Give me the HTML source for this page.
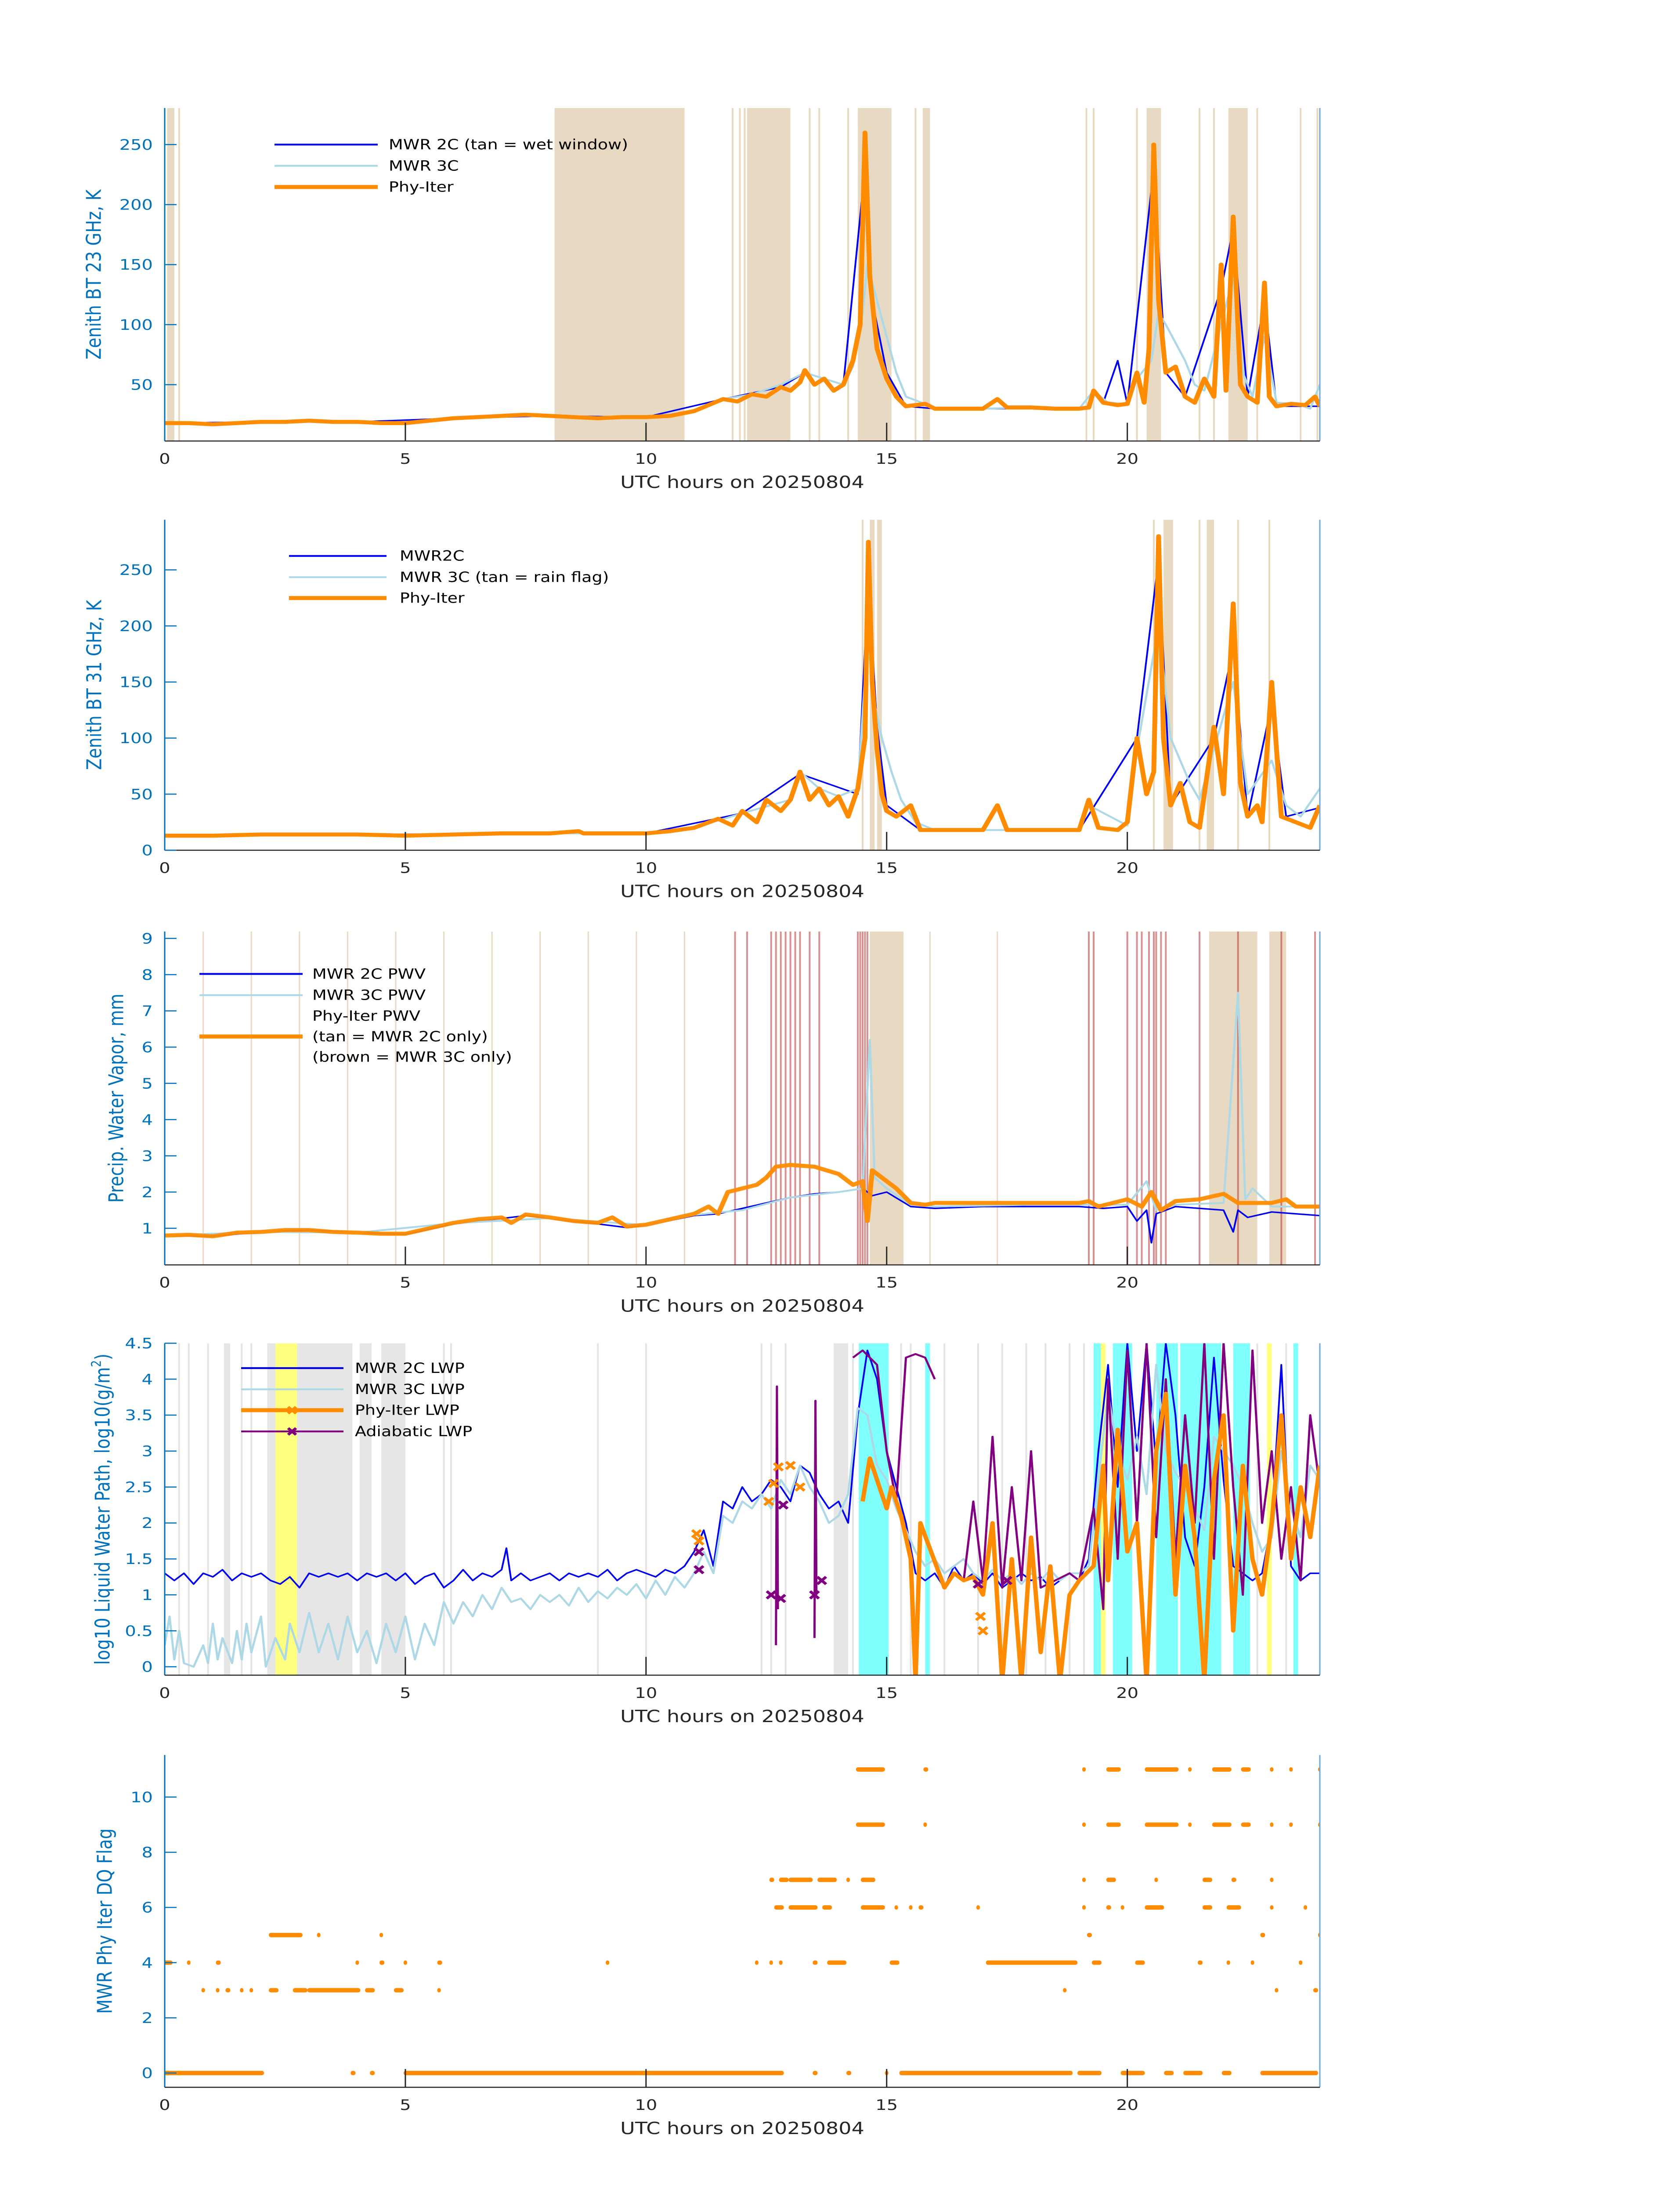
<!DOCTYPE html>
<html><head><meta charset="utf-8"><title>MWR Phy-Iter daily plots 20250804</title>
<style>
html,body{margin:0;padding:0;background:#fff;overflow:hidden;width:100%;height:100%;}
svg{display:block;width:100vw;height:100vh;font-family:"DejaVu Sans","Liberation Sans",sans-serif;}
.tk{font-size:40px;fill:#0072bd;}
.xt{font-size:40px;fill:#262626;}
.yl{font-size:46px;fill:#0072bd;}
.xl{font-size:46px;fill:#262626;}
.lg{font-size:38px;fill:#000;}
</style></head>
<body>
<svg id="fig" viewBox="0 0 3825 6000" preserveAspectRatio="none" xmlns="http://www.w3.org/2000/svg"></svg>
<script>
// ---------- DATA ----------
const phy23=[[0,18],[0.5,18],[1,17],[1.5,18],[2,19],[2.5,19],[3,20],[3.5,19],[4,19],[4.5,18],[5,18],[5.5,20],[6,22],[6.5,23],[7,24],[7.5,25],[8,24],[8.5,23],[9,22],[9.5,23],[10,23],[10.5,24],[11,28],[11.3,33],[11.6,38],[11.9,36],[12.2,42],[12.5,40],[12.8,48],[13.0,45],[13.2,52],[13.3,62],[13.5,50],[13.7,55],[13.9,45],[14.1,50],[14.3,70],[14.45,100],[14.55,260],[14.65,140],[14.8,80],[15.0,55],[15.2,40],[15.4,32],[15.6,33],[15.8,34],[16,30],[16.5,30],[17,30],[17.3,38],[17.5,31],[18,31],[18.5,30],[19,30],[19.2,31],[19.3,45],[19.5,35],[19.8,33],[20.0,34],[20.2,60],[20.35,35],[20.45,80],[20.55,250],[20.65,120],[20.8,60],[21.0,65],[21.2,40],[21.4,35],[21.6,55],[21.8,40],[21.95,150],[22.05,45],[22.2,190],[22.35,50],[22.5,40],[22.7,35],[22.85,135],[22.95,40],[23.1,32],[23.4,34],[23.7,33],[23.9,40],[24,32]];
const lb23=[[0,18],[1,17],[2,19],[3,20],[4,19],[5,18],[6,22],[7,24],[8,24],[9,22],[10,23],[11,28],[11.6,38],[12.2,42],[12.8,50],[13.3,60],[13.7,55],[14.1,50],[14.3,65],[14.5,110],[14.6,150],[14.8,120],[15.0,90],[15.2,60],[15.4,40],[15.8,34],[16,30],[17,30],[18,31],[19,30],[19.3,45],[19.6,35],[20.0,34],[20.2,55],[20.5,70],[20.65,110],[20.8,100],[21.0,85],[21.2,70],[21.4,50],[21.6,45],[21.95,100],[22.2,140],[22.4,60],[22.6,40],[22.85,90],[23.1,35],[23.5,34],[23.8,30],[24,50]];
const b23=[[0,18],[2,19],[4,19],[6,22],[8,24],[10,23],[11.6,38],[12.8,48],[13.3,60],[14.1,50],[14.55,230],[14.65,130],[14.8,100],[15.0,60],[15.4,32],[16,30],[19,30],[19.3,45],[19.5,35],[19.8,70],[20.0,34],[20.55,230],[20.8,60],[21.2,40],[21.95,130],[22.2,180],[22.5,40],[22.85,120],[23.1,32],[24,32]];
const tanBands23=[[0.05,0.2],[8.1,10.8],[12.1,13.0],[14.4,15.1],[15.75,15.9],[20.4,20.7],[22.1,22.5]];
const tanLines23=[0.3,11.8,11.95,12.05,13.4,13.6,14.2,15.6,19.15,19.3,20.2,21.5,21.8,22.7,23.6,23.95];

const phy31=[[0,13],[1,13],[2,14],[3,14],[4,14],[5,13],[6,14],[7,15],[8,15],[8.6,17],[8.7,15],[9,15],[10,15],[10.5,17],[11,20],[11.5,28],[11.8,22],[12,35],[12.3,25],[12.5,45],[12.8,35],[13,45],[13.2,70],[13.4,45],[13.6,55],[13.8,40],[14,48],[14.2,30],[14.4,55],[14.55,100],[14.62,275],[14.7,150],[14.8,90],[14.9,50],[15.0,35],[15.2,30],[15.5,40],[15.7,18],[16,18],[17,18],[17.3,40],[17.5,18],[18,18],[19,18],[19.2,45],[19.4,20],[19.8,18],[20.0,25],[20.2,100],[20.4,50],[20.55,70],[20.65,280],[20.75,100],[20.9,40],[21.1,60],[21.3,25],[21.5,20],[21.8,110],[22.0,50],[22.2,220],[22.35,60],[22.5,30],[22.7,40],[22.8,25],[23.0,150],[23.2,30],[23.5,25],[23.8,20],[24,40]];
const lb31=[[0,13],[2,14],[4,14],[6,14],[8,15],[10,15],[11,20],[12,33],[13,45],[13.2,70],[13.6,55],[14,48],[14.4,55],[14.62,200],[14.75,130],[14.9,100],[15.1,70],[15.3,45],[15.6,25],[16,18],[19,18],[19.2,40],[20,22],[20.2,90],[20.65,200],[20.9,100],[21.1,80],[21.3,60],[21.5,45],[21.8,90],[22.2,150],[22.5,50],[23.0,80],[23.3,40],[23.6,30],[24,55]];
const b31=[[0,13],[4,14],[8,15],[10,15],[12,33],[13.2,68],[14.4,50],[14.62,240],[14.8,110],[15.0,40],[15.7,18],[19,18],[20.2,100],[20.65,260],[20.9,40],[21.8,100],[22.2,180],[22.5,30],[23.0,130],[23.3,30],[24,38]];
const tanBands31=[[14.65,14.75],[14.8,14.9],[20.75,20.95],[21.65,21.8]];
const tanLines31=[14.5,20.55,21.5,22.3,22.95];

const phyPwv=[[0,0.8],[0.5,0.82],[1,0.78],[1.5,0.88],[2,0.9],[2.5,0.95],[3,0.95],[3.5,0.9],[4,0.88],[4.5,0.85],[5,0.85],[5.5,1.0],[6,1.15],[6.5,1.25],[7,1.3],[7.2,1.15],[7.5,1.38],[8,1.3],[8.5,1.2],[9,1.15],[9.3,1.3],[9.6,1.05],[10,1.1],[10.5,1.25],[11,1.4],[11.3,1.6],[11.5,1.4],[11.7,2.0],[12,2.1],[12.3,2.2],[12.5,2.4],[12.7,2.7],[13.0,2.75],[13.5,2.7],[14,2.5],[14.3,2.2],[14.5,2.3],[14.6,1.2],[14.7,2.6],[14.9,2.4],[15.2,2.1],[15.5,1.7],[15.8,1.65],[16,1.7],[17,1.7],[18,1.7],[19,1.7],[19.2,1.75],[19.4,1.6],[20,1.8],[20.3,1.6],[20.5,2.0],[20.7,1.5],[21,1.75],[21.5,1.8],[22,1.95],[22.3,1.7],[22.6,1.7],[23,1.7],[23.3,1.8],[23.5,1.6],[24,1.6]];
const bPwv=[[0,0.8],[1,0.78],[2,0.9],[3,0.95],[4,0.88],[5,0.83],[6,1.12],[7,1.27],[7.5,1.35],[8,1.27],[9,1.12],[9.6,1.02],[10,1.08],[11,1.35],[11.5,1.4],[12,1.55],[12.5,1.7],[13,1.85],[13.5,1.95],[14,2.0],[14.5,2.1],[14.7,1.9],[15,2.0],[15.5,1.6],[16,1.55],[17,1.6],[18,1.6],[19,1.6],[19.5,1.55],[20,1.6],[20.2,1.2],[20.4,1.5],[20.5,0.6],[20.6,1.4],[21,1.6],[21.5,1.55],[22,1.5],[22.2,0.9],[22.3,1.5],[22.5,1.3],[23,1.45],[23.5,1.4],[24,1.35]];
const lbPwv=[[0,0.8],[2,0.9],[4,0.88],[6,1.14],[8,1.28],[10,1.09],[11,1.37],[12,1.5],[13,1.85],[14,2.0],[14.5,2.1],[14.65,6.2],[14.75,2.4],[15,2.1],[15.5,1.65],[16,1.6],[18,1.65],[20,1.65],[20.4,2.3],[20.6,1.5],[21,1.65],[22,1.7],[22.3,7.5],[22.45,1.8],[22.6,2.1],[23,1.6],[24,1.6]];
const tanBandsPwv=[[14.65,15.35],[21.7,22.7],[22.95,23.3]];
const redLinesPwv=[11.85,12.1,12.6,12.7,12.8,12.9,13.0,13.1,13.2,13.4,13.6,14.4,14.45,14.5,14.55,14.6,19.2,19.3,20.0,20.2,20.3,20.45,20.55,20.6,20.7,20.8,21.5,22.3,23.2,23.9];
const tanLinesPwv=[0.8,1.8,2.8,3.8,4.8,5.8,6.8,7.8,8.8,9.8,10.8,15.9,17.3];

const b2Lwp=[[0,1.3],[0.2,1.2],[0.4,1.3],[0.6,1.15],[0.8,1.3],[1.0,1.25],[1.2,1.35],[1.4,1.2],[1.6,1.3],[1.8,1.25],[2.0,1.3],[2.2,1.2],[2.4,1.15],[2.6,1.25],[2.8,1.1],[3.0,1.3],[3.2,1.25],[3.4,1.3],[3.6,1.25],[3.8,1.3],[4.0,1.2],[4.2,1.3],[4.4,1.25],[4.6,1.3],[4.8,1.2],[5.0,1.3],[5.2,1.15],[5.4,1.25],[5.6,1.3],[5.8,1.1],[6.0,1.2],[6.2,1.35],[6.4,1.2],[6.6,1.3],[6.8,1.25],[7.0,1.35],[7.1,1.65],[7.2,1.2],[7.4,1.3],[7.6,1.2],[7.8,1.25],[8.0,1.3],[8.2,1.2],[8.4,1.3],[8.6,1.25],[8.8,1.3],[9.0,1.25],[9.2,1.35],[9.4,1.2],[9.6,1.3],[9.8,1.35],[10.0,1.3],[10.2,1.25],[10.4,1.35],[10.6,1.3],[10.8,1.4],[11.0,1.6],[11.2,1.9],[11.4,1.4],[11.6,2.3],[11.8,2.2],[12.0,2.5],[12.2,2.3],[12.4,2.4],[12.6,2.6],[12.8,2.5],[13.0,2.3],[13.2,2.8],[13.4,2.7],[13.6,2.4],[13.8,2.2],[14.0,2.3],[14.2,2.0],[14.4,3.5],[14.6,4.4],[14.8,4.0],[15.0,3.0],[15.2,2.5],[15.4,2.0],[15.6,1.3],[15.8,1.2],[16.0,1.3],[16.2,1.1],[16.4,1.4],[16.6,1.2],[16.8,1.3],[17.0,1.15],[17.2,1.3],[17.4,1.1],[17.6,1.2],[17.8,1.3],[18.0,1.2],[18.2,1.25],[18.4,1.1],[18.6,1.2],[18.8,1.3],[19.0,1.2],[19.2,1.5],[19.4,3.0],[19.6,4.2],[19.8,2.5],[20.0,4.5],[20.2,3.0],[20.4,4.5],[20.6,2.8],[20.8,4.5],[21.0,3.5],[21.2,1.8],[21.4,1.4],[21.6,2.5],[21.8,4.3],[22.0,2.6],[22.2,1.4],[22.4,1.3],[22.6,1.2],[22.8,1.3],[23.0,2.0],[23.2,4.2],[23.4,1.4],[23.6,1.2],[23.8,1.3],[24,1.3]];
const b3Lwp=[[0,0.3],[0.1,0.7],[0.2,0.1],[0.3,0.5],[0.4,0.05],[0.6,0],[0.8,0.3],[0.9,0.05],[1.0,0.6],[1.1,0.1],[1.2,0.4],[1.4,0.05],[1.5,0.5],[1.6,0.1],[1.7,0.6],[1.8,0.2],[2.0,0.7],[2.1,0.0],[2.3,0.4],[2.5,0.1],[2.6,0.6],[2.8,0.2],[3.0,0.75],[3.2,0.2],[3.4,0.6],[3.6,0.1],[3.8,0.7],[4.0,0.2],[4.2,0.5],[4.4,0.05],[4.6,0.6],[4.8,0.2],[5.0,0.7],[5.2,0.1],[5.4,0.6],[5.6,0.3],[5.8,0.9],[6.0,0.6],[6.2,0.9],[6.4,0.7],[6.6,1.0],[6.8,0.8],[7.0,1.1],[7.2,0.9],[7.4,0.95],[7.6,0.8],[7.8,1.0],[8.0,0.9],[8.2,1.0],[8.4,0.85],[8.6,1.1],[8.8,0.9],[9.0,1.05],[9.2,0.95],[9.4,1.1],[9.6,1.0],[9.8,1.15],[10.0,0.95],[10.2,1.2],[10.4,1.0],[10.6,1.25],[10.8,1.1],[11.0,1.3],[11.2,1.6],[11.4,1.3],[11.6,2.1],[11.8,2.0],[12.0,2.3],[12.2,2.2],[12.4,2.4],[12.6,2.2],[12.8,2.6],[13.0,2.4],[13.2,2.8],[13.4,2.5],[13.6,2.3],[13.8,2.0],[14.0,2.1],[14.2,2.4],[14.4,3.6],[14.6,3.5],[14.8,2.8],[15.0,2.6],[15.2,2.2],[15.4,1.9],[15.6,1.6],[15.8,1.4],[16.0,1.5],[16.2,1.3],[16.4,1.4],[16.6,1.5],[16.8,1.3],[17.0,1.2],[17.2,1.35],[17.4,1.2],[17.6,1.3],[17.8,1.15],[18.0,1.3],[18.2,1.2],[18.4,1.35],[18.6,1.2],[18.8,1.3],[19.0,1.3],[19.2,1.4],[19.4,2.6],[19.6,3.8],[19.8,3.0],[20.0,2.6],[20.2,3.2],[20.4,2.4],[20.6,4.2],[20.8,3.0],[21.0,2.7],[21.2,2.5],[21.4,2.2],[21.6,1.9],[21.8,3.2],[22.0,3.0],[22.2,2.8],[22.4,2.5],[22.6,2.0],[22.8,1.6],[23.0,1.8],[23.2,3.0],[23.4,2.2],[23.6,1.8],[23.8,2.8],[24,2.6]];
const phyLwp=[[14.5,2.3],[14.65,2.9],[14.8,2.6],[15.0,2.2],[15.1,2.5],[15.3,2.1],[15.5,1.5],[15.6,-0.2],[15.7,2.0],[16.2,1.1],[16.4,1.3],[16.6,1.2],[16.8,1.25],[17.0,1.0],[17.2,2.0],[17.4,-0.2],[17.6,1.5],[17.8,-0.2],[18.0,1.8],[18.2,0.2],[18.4,1.4],[18.6,-0.2],[18.8,1.0],[19.0,1.2],[19.3,1.4],[19.5,2.8],[19.6,1.2],[19.8,3.3],[20.0,1.6],[20.2,2.0],[20.4,-0.2],[20.6,3.0],[20.8,3.8],[21.0,1.0],[21.2,2.8],[21.4,1.8],[21.6,-0.2],[21.8,2.6],[22.0,3.5],[22.2,0.5],[22.4,2.8],[22.6,1.5],[22.8,1.0],[23.0,2.0],[23.2,3.5],[23.4,1.5],[23.6,2.5],[23.8,1.8],[24,2.8]];
const phyLwpMarks=[[11.05,1.85],[11.1,1.75],[12.55,2.3],[12.65,2.55],[12.75,2.78],[13.0,2.8],[13.2,2.5],[16.95,0.7],[17.0,0.5]];
const adiaLwp=[[12.7,0.3],[12.72,3.9],[12.74,0.8],null,[13.5,0.4],[13.52,3.7],[13.54,1.0],null,[14.3,4.3],[14.5,4.4],[14.8,4.2],[15.0,3.0],[15.2,2.3],[15.4,4.3],[15.6,4.35],[15.8,4.3],[16.0,4.0],null,[16.6,1.2],[16.8,2.3],[17.0,1.2],[17.2,3.2],[17.4,1.1],[17.6,2.5],[17.8,1.2],[18.0,3.0],[18.2,1.1],[18.5,1.2],[18.8,1.3],[19.0,1.2],[19.3,2.2],[19.5,0.8],[19.6,4.0],[19.8,1.5],[20.0,4.4],[20.2,2.0],[20.4,4.5],[20.6,1.8],[20.8,4.0],[21.0,1.5],[21.2,3.5],[21.4,2.0],[21.6,4.5],[21.8,1.5],[22.0,4.5],[22.2,2.5],[22.4,1.0],[22.6,4.4],[22.8,2.0],[23.0,3.0],[23.2,1.5],[23.4,2.5],[23.6,1.2],[23.8,3.5],[24,2.5]];
const adiaMarks=[[11.1,1.6],[11.1,1.35],[12.6,1.0],[12.8,0.95],[12.85,2.25],[13.5,1.0],[13.65,1.2],[16.9,1.15],[17.5,1.2]];
const grayBands=[[1.23,1.36],[2.13,3.9],[4.05,4.3],[4.5,5.0],[13.9,14.2]];
const yellowBands=[[2.3,2.75],[19.45,19.55],[22.9,23.0]];
const cyanBands=[[14.42,15.04],[15.8,15.9],[19.3,19.45],[19.7,20.1],[20.6,21.05],[21.1,21.95],[22.2,22.55],[23.45,23.55]];
const grayLines=[0.3,0.5,0.9,1.6,1.8,5.8,5.95,9.0,10.0,12.4,12.6,12.9,14.3,15.3,15.5,16.2,16.9,17.4,17.9,18.3,18.8,19.1,22.7,23.3];

const flagLevels=[0,3,4,5,6,7,9,11];
const flagSegs=[
 [[0,2.1],[3.9,4.0],[4.3,4.4],[5.0,12.9],[13.5,13.6],[14.2,14.3],[15.0,15.05],[15.3,18.9],[19.0,19.5],[19.9,20.4],[20.8,21.0],[21.2,21.6],[22.0,22.2],[22.8,24]],
 [[0.8,0.8],[1.1,1.1],[1.3,1.4],[1.6,1.6],[1.8,1.8],[2.2,2.4],[2.7,3.0],[3.0,4.1],[4.2,4.4],[4.8,5.0],[5.7,5.7],[18.7,18.7],[23.1,23.1],[23.9,24]],
 [[0,0.2],[0.5,0.5],[1.1,1.2],[4.0,4.0],[4.5,4.6],[5.0,5.0],[5.7,5.8],[9.2,9.2],[12.3,12.3],[12.6,12.6],[12.8,12.8],[13.5,13.6],[13.8,14.2],[15.1,15.3],[17.1,19.0],[19.3,19.5],[20.2,20.4],[21.5,21.6],[22.1,22.1],[22.6,22.6],[23.6,23.6]],
 [[2.2,2.9],[3.2,3.2],[4.5,4.5],[19.2,19.3],[22.8,22.9],[24,24]],
 [[12.7,12.9],[13.0,13.6],[13.7,13.9],[14.5,15.0],[15.2,15.2],[15.5,15.5],[15.7,15.8],[16.9,16.9],[19.1,19.1],[19.6,19.7],[19.9,19.9],[20.4,20.8],[21.6,21.8],[22.1,22.4],[23.0,23.0],[23.7,23.7]],
 [[12.6,12.7],[12.8,13.0],[13.0,13.5],[13.6,14.0],[14.2,14.2],[14.5,14.8],[19.1,19.1],[19.6,19.8],[20.6,20.6],[21.6,21.8],[22.2,22.3],[23.0,23.0]],
 [[14.4,15.0],[15.8,15.8],[19.1,19.1],[19.6,19.9],[20.4,21.1],[21.3,21.3],[21.8,22.2],[22.4,22.6],[23.0,23.0],[23.4,23.4],[24,24]],
 [[14.4,15.0],[15.8,15.9],[19.1,19.1],[19.6,19.9],[20.4,21.1],[21.3,21.3],[21.8,22.2],[22.4,22.6],[23.0,23.0],[23.4,23.4],[24,24]]
];

// ---------- DRAWING ----------
const NS='http://www.w3.org/2000/svg';
const svg=document.getElementById('fig');
const X0=375,X1=3005;
function sx(h){return X0+(h/24)*(X1-X0);}
function mk(tag,attrs,parent){const e=document.createElementNS(NS,tag);for(const k in attrs)e.setAttribute(k,attrs[k]);(parent||svg).appendChild(e);return e;}
function makeY(p){return v=>p.y0px+(v-p.y0)*(p.y1px-p.y0px)/(p.y1-p.y0);}
function pathD(pts,ys){let d='',pen=false;for(const p of pts){if(!p){pen=false;continue;}d+=(pen?'L':'M')+sx(p[0]).toFixed(1)+' '+ys(p[1]).toFixed(1);pen=true;}return d;}

const panels=[
 {id:'bt23',top:295,bot:1205,y0:50,y0px:1051,y1:250,y1px:395,ticks:[50,100,150,200,250],label:'Zenith BT 23 GHz, K',labX:217},
 {id:'bt31',top:1420,bot:2323,y0:0,y0px:2323,y1:250,y1px:1557,ticks:[0,50,100,150,200,250],label:'Zenith BT 31 GHz, K',labX:218},
 {id:'pwv',top:2545,bot:3456,y0:1,y0px:3356,y1:9,y1px:2564,ticks:[1,2,3,4,5,6,7,8,9],label:'Precip. Water Vapor, mm',labX:268},
 {id:'lwp',top:3670,bot:4577,y0:0,y0px:4554,y1:4.5,y1px:3670,ticks:[0,0.5,1,1.5,2,2.5,3,3.5,4,4.5],label:'LWP',labX:237},
 {id:'dq',top:4795,bot:5703,y0:0,y0px:5664,y1:10,y1px:4910,ticks:[0,2,4,6,8,10],label:'MWR Phy Iter DQ Flag',labX:242}
];
const defs=mk('defs',{});

panels.forEach((p,i)=>{
 const g=mk('g',{});
 
 
 const cp=mk('clipPath',{id:'cp'+i},defs);
 mk('rect',{x:X0,y:p.top,width:X1-X0,height:p.bot-p.top},cp);
 p.g=g; p.ys=makeY(p);
 p.plot=mk('g',{'clip-path':'url(#cp'+i+')'},g);
 
 
});

function bands(p,list,color,op,name){for(const b of list){const r=mk('rect',{x:sx(b[0]),y:p.top,width:Math.max(3,sx(b[1])-sx(b[0])),height:p.bot-p.top,fill:color,'fill-opacity':op},p.plot);
 
 }}
function vlines(p,list,color,op,w,name){for(const h of list){const l=mk('line',{x1:sx(h),x2:sx(h),y1:p.top,y2:p.bot,stroke:color,'stroke-opacity':op,'stroke-width':w},p.plot);
 
 }}
function series(p,pts,color,w,name,op){const e=mk('path',{d:pathD(pts,p.ys),fill:'none',stroke:color,'stroke-width':w,'stroke-linejoin':'round','stroke-opacity':op||1},p.plot);
 
 }
function xmarks(p,pts,color,name){for(const q of pts){const cx=sx(q[0]),cy=p.ys(q[1]),s=10;
 const e=mk('path',{d:`M${cx-s} ${cy-s}L${cx+s} ${cy+s}M${cx-s} ${cy+s}L${cx+s} ${cy-s}`,stroke:color,'stroke-width':7},p.plot);
 
 }}

const TAN='#e8d9c2',ORANGE='#ff8c00',BLUE='#0000ee',LB='#add8e6',PURPLE='#800080';
let P=panels[0];
bands(P,tanBands23,TAN,1,'wet-window-band');
vlines(P,tanLines23,TAN,1,4,'wet-window-line');
series(P,b23,BLUE,4,'mwr2c-bt23');
series(P,lb23,LB,5,'mwr3c-bt23');
series(P,phy23,ORANGE,11,'phyiter-bt23');
P=panels[1];
bands(P,tanBands31,TAN,1,'rain-flag-band');
vlines(P,tanLines31,TAN,1,4,'rain-flag-line');
series(P,b31,BLUE,4,'mwr2c-bt31');
series(P,lb31,LB,5,'mwr3c-bt31');
series(P,phy31,ORANGE,11,'phyiter-bt31');
P=panels[2];
vlines(P,tanLinesPwv,TAN,1,3,'mwr2c-only-line');
bands(P,tanBandsPwv,TAN,1,'mwr2c-only-band');
vlines(P,redLinesPwv,'#b22222',0.5,4,'mwr3c-only-line');
series(P,bPwv,BLUE,4,'mwr2c-pwv');
series(P,lbPwv,LB,5,'mwr3c-pwv');
series(P,phyPwv,ORANGE,11,'phyiter-pwv',0.95);
P=panels[3];
vlines(P,grayLines,'#e4e4e4',1,4,'qc-gray-line');
bands(P,grayBands,'#e6e6e6',1,'qc-gray-band');
bands(P,yellowBands,'#ffff80',1,'qc-yellow-band');
bands(P,cyanBands,'#80ffff',1,'qc-cyan-band');
series(P,b2Lwp,BLUE,4,'mwr2c-lwp');
series(P,b3Lwp,LB,5,'mwr3c-lwp');
series(P,adiaLwp,PURPLE,5,'adiabatic-lwp');
series(P,phyLwp,ORANGE,10,'phyiter-lwp');
xmarks(P,phyLwpMarks,ORANGE,'phyiter-lwp-marker');
xmarks(P,adiaMarks,PURPLE,'adiabatic-lwp-marker');
P=panels[4];
flagLevels.forEach((lv,k)=>{for(const s of flagSegs[k]){const x=sx(s[0]),w=Math.max(8,sx(s[1])-sx(s[0]));
 const r=mk('rect',{x:x-4,y:P.ys(lv)-6,width:w,height:12,rx:5,fill:ORANGE},P.plot);
 
 }});

panels.forEach((p,i)=>{
 const g=p.g;
 const ls=mk('line',{x1:X0,x2:X0,y1:p.top,y2:p.bot,stroke:'#0072bd','stroke-width':3},g);
 
 
 const rs=mk('line',{x1:X1,x2:X1,y1:p.top,y2:p.bot,stroke:'#6fa8dc','stroke-width':3},g);
 
 
 const bs=mk('line',{x1:X0,x2:X1,y1:p.bot,y2:p.bot,stroke:'#262626','stroke-width':3},g);
 
 
 for(const t of p.ticks){const y=p.ys(t);
  mk('line',{x1:X0,x2:X0+27,y1:y,y2:y,stroke:'#0072bd','stroke-width':3},g);
  const tx=mk('text',{x:348,y:y+14,'text-anchor':'end',class:'tk'},g);tx.textContent=String(t);
  
  }
 for(const h of [0,5,10,15,20]){const x=sx(h);
  if(h>0)mk('line',{x1:x,x2:x,y1:p.bot,y2:p.bot-50,stroke:'#262626','stroke-width':3},g);
  const tx=mk('text',{x:x,y:p.bot+62,'text-anchor':'middle',class:'xt'},g);tx.textContent=String(h);
  
  }
 const xl=mk('text',{x:(X0+X1)/2,y:p.bot+128,'text-anchor':'middle',class:'xl'},g);xl.textContent='UTC hours on 20250804';
 
 
 const cy=(p.top+p.bot)/2;
 const yl=mk('text',{x:p.labX,y:cy,'text-anchor':'middle',class:'yl',transform:`rotate(-90 ${p.labX} ${cy})`,'dominant-baseline':'middle'},g);
 if(p.id==='lwp'){yl.innerHTML='log10 Liquid Water Path, log10(g/m<tspan dy="-16" font-size="30">2</tspan><tspan dy="16">)</tspan>';}
 else yl.textContent=p.label;
 
 
});

function legLine(x1,x2,y,color,w,name){const l=mk('line',{x1:x1,x2:x2,y1:y,y2:y,stroke:color,'stroke-width':w});
 
 }
function legText(x,y,t){const e=mk('text',{x:x,y:y+13,class:'lg'});e.textContent=t;
 
 }
legLine(625,860,395,BLUE,5,'legend-mwr2c-swatch');legText(885,395,'MWR 2C (tan = wet window)');
legLine(625,860,453,LB,5,'legend-mwr3c-swatch');legText(885,453,'MWR 3C');
legLine(625,860,511,ORANGE,11,'legend-phyiter-swatch');legText(885,511,'Phy-Iter');

legLine(658,880,1519,BLUE,5,'legend-mwr2c-swatch');legText(910,1519,'MWR2C');
legLine(658,880,1577,LB,5,'legend-mwr3c-swatch');legText(910,1577,'MWR 3C (tan = rain flag)');
legLine(658,880,1634,ORANGE,11,'legend-phyiter-swatch');legText(910,1634,'Phy-Iter');

legLine(454,689,2661,BLUE,5,'legend-mwr2c-swatch');legText(711,2661,'MWR 2C PWV');
legLine(454,689,2719,LB,5,'legend-mwr3c-swatch');legText(711,2719,'MWR 3C PWV');
legText(711,2776,'Phy-Iter PWV');
legLine(454,689,2832,ORANGE,11,'legend-phyiter-swatch');legText(711,2832,'(tan = MWR 2C only)');
legText(711,2888,'(brown = MWR 3C only)');

legLine(549,782,3738,BLUE,5,'legend-mwr2c-swatch');legText(808,3738,'MWR 2C LWP');
legLine(549,782,3796,LB,5,'legend-mwr3c-swatch');legText(808,3796,'MWR 3C LWP');
legLine(549,782,3853,ORANGE,11,'legend-phyiter-swatch');legText(808,3853,'Phy-Iter LWP');
legLine(549,782,3911,PURPLE,5,'legend-adiabatic-swatch');legText(808,3911,'Adiabatic LWP');
(function(){const c=665;
 let e=mk('path',{d:`M${c-9} ${3853-9}L${c+9} ${3853+9}M${c-9} ${3853+9}L${c+9} ${3853-9}`,stroke:ORANGE,'stroke-width':7});
 
 
 e=mk('path',{d:`M${c-9} ${3911-9}L${c+9} ${3911+9}M${c-9} ${3911+9}L${c+9} ${3911-9}`,stroke:PURPLE,'stroke-width':7});
 
 })();
</script>
</body></html>
